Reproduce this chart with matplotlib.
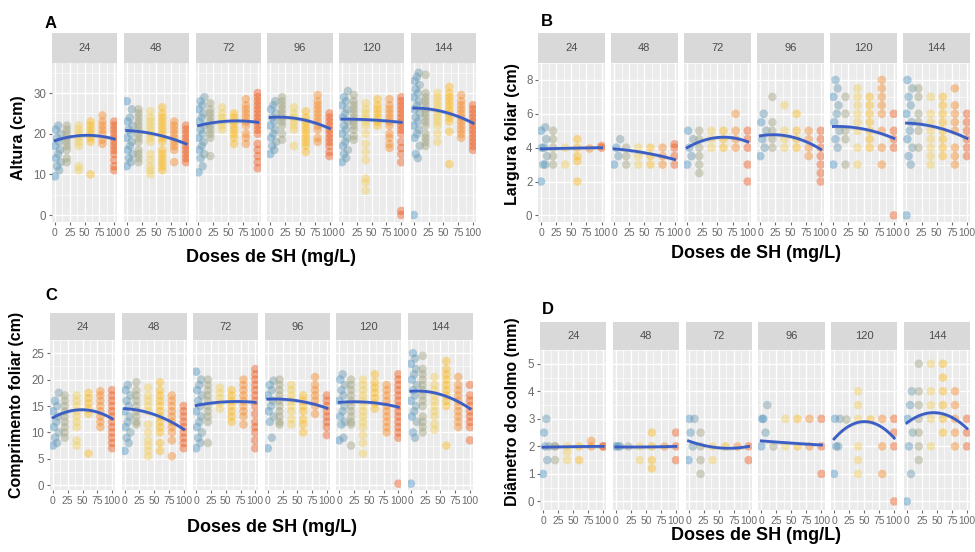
import numpy as np
import matplotlib.pyplot as plt
from matplotlib import font_manager
from matplotlib.colors import LinearSegmentedColormap

# === data ===
facets = ["24", "48", "72", "96", "120", "144"]
doses = [0, 20, 40, 60, 80, 100]
dose_ticks = [0, 25, 50, 75, 100]

# one block per facet, one list per dose column
altura = [
    [[9.5, 11, 12, 13, 14, 15, 16, 17, 18, 19, 20, 21, 22],
     [13, 14, 16, 17, 18, 19, 20, 21, 22],
     [11, 12, 17, 18, 19, 20, 21, 22],
     [10, 18, 19, 20, 21, 22, 23],
     [17.5, 18.5, 20, 21, 22, 23, 24.5],
     [11, 12, 13.5, 15, 16, 17, 18, 19, 20, 21, 22, 23]],
    [[12, 13, 14, 15, 16, 17, 18, 19, 20, 21, 22, 23, 24, 26, 28],
     [13, 14, 15, 16, 18, 19, 20, 21, 22, 23, 24, 25, 26],
     [10, 11, 12, 13.5, 15, 18, 19, 20, 21, 22, 23, 24, 25.5],
     [11, 12, 13, 14, 15, 16, 18, 19, 20, 21, 22, 23, 24, 25, 26.5],
     [13, 16, 17, 18, 19, 20, 21, 22, 23],
     [13, 14, 15, 16, 17, 18, 19, 20, 21, 22]],
    [[10.5, 12, 14, 15, 16, 17, 18, 19, 20, 21, 22, 23, 24, 25, 26, 27, 28, 29],
     [14.5, 19, 20, 21, 22, 23, 24, 25, 26, 27.5],
     [21, 22, 23, 24, 25, 26.5],
     [17.5, 19, 20, 21, 22, 23, 24, 25],
     [17.5, 19, 20, 22, 23, 24, 25, 26, 27, 28.5],
     [11.5, 13, 14.5, 16, 17.5, 20, 21, 22, 23, 24, 25, 26, 27, 28, 29, 30]],
    [[15, 16, 17, 18, 19, 20, 21, 22, 23, 24, 25, 26, 27, 28],
     [18.5, 20, 22, 23, 24, 25, 26, 27, 28, 29],
     [17, 21, 22, 23, 24, 25, 26.5],
     [15.5, 17, 18, 19, 20, 21, 22, 23, 24, 25.5],
     [18, 19, 21, 22, 23, 24, 25, 26, 27, 28, 29.5],
     [14.5, 15.5, 17, 18, 19, 20, 21, 22, 23, 24, 25]],
    [[13, 14, 15, 16, 17, 18, 19, 20, 21, 22, 23, 24, 25, 26, 27, 28, 29, 30.5],
     [18.5, 19.5, 21, 22, 23, 24, 25, 26, 27, 28, 29.5],
     [6, 8, 9, 13.5, 15.5, 17.5, 20, 22, 23, 24, 25, 26, 27.5],
     [22, 23, 24, 25, 26, 27, 28.5],
     [16.5, 17.5, 19, 20, 22, 23, 24, 25, 26, 27, 28.5],
     [0, 1, 13, 15, 16.5, 18, 20, 21, 22, 23, 24, 25, 26, 27, 28, 29]],
    [[0, 14, 15, 17, 19, 20, 21, 22, 23, 24, 25, 26, 27, 28, 29, 30, 31, 32, 33, 34, 35],
     [17, 18, 19, 20, 22, 23, 24, 25, 26, 27, 28, 29, 30, 34.5],
     [18, 20, 22, 23, 24, 25, 26, 27, 28, 29, 30],
     [12.5, 20.5, 23, 24, 25, 26, 27, 28, 29, 30, 31.5],
     [19, 20, 21, 22, 23, 24, 25, 26, 27, 28, 29.5],
     [16, 17, 18, 19, 20, 21, 22, 23, 24, 25, 26, 27]],
]
altura_fit = [[18.3, 19.6, 18.7], [20.8, 19.8, 17.5], [22.0, 23.1, 22.8],
              [24.0, 23.6, 21.3], [23.6, 23.4, 22.8], [26.3, 25.4, 22.6]]

largura = [
    [[2, 3, 3, 3.5, 4, 4, 4.5, 5, 5.2], [3, 3.5, 4, 4.5, 5], [3, 4],
     [2, 3.2, 3.5, 4, 4.5], [4], [4, 4.1]],
    [[3, 3.5, 4, 4.5], [3, 3.5, 4], [3, 3.5, 4], [3, 3.5, 4], [3, 3.5, 4],
     [3, 3.5, 4, 4.2]],
    [[3, 3.5, 4, 4.5, 5], [2.5, 3, 3.5, 4, 4.5, 5], [4, 4.5, 5], [4, 4.5, 5],
     [4, 4.5, 5, 6], [2, 3, 4, 4.5, 5]],
    [[3.5, 4, 4.5, 5, 5.5, 6], [4, 4.5, 5, 5.5, 7], [4, 4.5, 5, 6.5],
     [4, 4.5, 5, 6], [3.5, 4, 4.5, 5], [2, 2.5, 3, 3.5, 4, 4.5, 5]],
    [[3, 4, 4.5, 5, 5.5, 6, 6.5, 7, 7.5, 8], [3, 4.5, 5, 6, 7],
     [3, 4, 5, 5.5, 6, 6.5, 7, 7.5], [4, 4.5, 5, 5.5, 6, 6.5, 7],
     [3, 4, 5, 6, 6.5, 7, 7.5, 8], [0, 4, 4.5, 5, 6]],
    [[0, 3, 3.5, 4, 4.5, 5, 5.5, 6, 6.5, 7, 7.5, 8], [4, 5, 5.5, 6, 7, 7.5],
     [3, 3.5, 4, 4.5, 5, 5.5, 6, 7], [3.5, 4, 4.5, 5, 5.5, 6, 6.5, 7],
     [3, 3.5, 4, 5, 5.5, 6, 6.5, 7.5], [3.5, 4, 4.5, 5, 5.5, 6]],
]
largura_fit = [[3.93, 3.97, 4.0], [3.93, 3.7, 3.3], [4.0, 4.6, 4.35],
               [4.7, 4.65, 3.9], [5.25, 5.1, 4.55], [5.45, 5.2, 4.55]]

comprimento = [
    [[7.5, 8, 9, 10, 11, 12, 13, 14, 15, 16, 17.5],
     [9, 10, 11, 12, 13, 14, 15, 16, 17],
     [7.5, 8.5, 11, 12, 13, 14, 15, 16, 17],
     [6, 13.5, 14.5, 15.5, 16.5, 17.5],
     [11, 12, 13, 14, 15, 16, 17, 17.8],
     [7, 8, 9, 10, 11, 12, 13, 14, 15, 16, 17, 18]],
    [[6.5, 8, 9, 10, 11, 12, 13, 14, 15, 16, 17, 18, 19],
     [11.5, 12, 13, 14, 15, 16, 17, 18, 19.5],
     [5.5, 6.5, 7.5, 8.5, 10, 11.5, 14, 15, 16, 17, 18.5],
     [6.5, 8, 10, 11, 12, 13, 14, 15, 16, 17, 18, 19.5],
     [5.5, 8.5, 10, 11, 12, 13, 14, 15, 16, 17],
     [7, 8, 9, 10, 11, 12, 13, 14, 15]],
    [[7, 8, 9, 10, 11, 12, 13, 14, 15, 16, 17, 18, 19, 20, 21.5],
     [8, 12, 13, 14, 15, 16, 17, 18, 19, 20],
     [14.5, 15.5, 16.5, 17.5, 18.5],
     [12, 13, 14, 15, 16, 17, 18],
     [11.5, 13, 14, 15, 16, 17, 18, 19, 20],
     [7, 8.5, 10, 11, 12, 13.5, 15, 16, 17, 18, 19, 20, 21, 22]],
    [[7, 9, 12, 13, 14, 15, 16, 17, 18, 19, 19.8],
     [11.5, 12, 13, 14, 15, 16, 17, 18, 19, 20],
     [11.5, 12.5, 14, 15, 16, 17, 18, 19],
     [10, 11.5, 12.5, 14, 15, 16, 17],
     [13.5, 15, 16, 17, 18, 19, 20.5],
     [9.5, 11, 12, 13, 14, 15, 16, 17]],
    [[8.5, 9, 11.5, 12, 13, 14, 15, 16, 17, 18, 19, 20, 21],
     [7.5, 11.5, 12, 13, 14, 15, 16, 17, 18, 19, 20],
     [6, 8, 9.5, 11, 12, 13, 14, 15, 16, 17, 18, 19, 20],
     [14.5, 15.5, 16.5, 17.5, 18.5, 19.5, 21],
     [10, 11, 12, 13, 14, 15, 16, 17, 18, 19],
     [0.3, 9, 10, 11, 12, 13, 14, 15, 16, 17, 18, 19, 20, 21]],
    [[0.3, 9, 10, 12, 13, 14, 15, 16, 17, 18, 19, 20, 21, 22, 23, 24, 25],
     [10, 11, 12, 13, 15, 16, 17, 18, 19, 20, 21, 22, 24.5],
     [10.5, 11.5, 13, 14, 15, 16, 17, 18, 19, 20.5],
     [7.5, 15, 16, 17, 18, 19, 20, 21, 22, 23.5],
     [11, 12, 13, 14, 15, 16, 17, 18, 19, 20.5],
     [8.5, 11, 12, 13, 14, 15, 16, 17, 19]],
]
comprimento_fit = [[12.8, 14.3, 12.6], [14.5, 13.4, 10.6], [15.1, 15.8, 15.7],
                   [16.3, 16.0, 14.6], [15.7, 15.7, 14.8], [17.8, 17.2, 14.5]]

diametro = [
    [[1, 1.5, 2, 2, 2.5, 3], [1.5, 2, 2], [1.5, 1.8, 2], [1.5, 2], [2, 2.2], [2, 2]],
    [[2, 2, 2], [2], [1.5, 2], [1.2, 1.5, 2, 2.5], [2], [1.5, 2, 2.5]],
    [[1.5, 2, 2.5, 3, 3], [1, 1.5, 2, 2.5], [1.5, 2], [2], [2], [1.5, 2]],
    [[2, 2.5, 3, 3.5, 3], [2], [2, 3], [2, 3], [2, 3], [1, 2, 3]],
    [[1, 2, 2, 3, 3], [3], [1, 1.5, 2, 3, 3.5, 4], [3], [1, 2, 3], [0, 2, 2.5, 3]],
    [[0, 1, 2, 2.5, 3, 3.5, 4], [1.5, 2, 2.5, 3, 3.5, 4, 5], [2, 3, 3.5, 4, 5],
     [2.5, 3, 3.5, 4, 4.5, 5], [2, 2.5, 3, 3.5, 4], [2, 2.5, 3]],
]
diametro_fit = [[1.97, 1.99, 2.0], [1.98, 1.98, 2.0], [2.2, 1.95, 2.0],
                [2.2, 2.12, 2.05], [2.27, 2.9, 2.3], [2.85, 3.22, 2.65]]

# === layout (pixels of a 975x552 canvas) ===
W, H = 975, 552
panels = [
    dict(tag="A", ylabel="Altura (cm)", values=altura, fit=altura_fit,
         left=52, right=476, strip_top=33, top=63, bottom=222,
         ylim=(-1.72, 37.4), yticks=[0, 10, 20, 30],
         tag_xy=(51, 23), ylab_xy=(19, 138), xlab_xy=(271, 257)),
    dict(tag="B", ylabel="Largura foliar (cm)", values=largura, fit=largura_fit,
         left=538, right=970, strip_top=33, top=63, bottom=222,
         ylim=(-0.39, 8.44), yticks=[0, 2, 4, 6, 8],
         tag_xy=(547, 22), ylab_xy=(512, 134), xlab_xy=(756, 254)),
    dict(tag="C", ylabel="Comprimento foliar (cm)", values=comprimento, fit=comprimento_fit,
         left=50, right=473, strip_top=313, top=340, bottom=490,
         ylim=(-0.9, 26.3), yticks=[0, 5, 10, 15, 20, 25],
         tag_xy=(51, 295), ylab_xy=(17, 405), xlab_xy=(272, 527)),
    dict(tag="D", ylabel="Diâmetro do colmo (mm)", values=diametro, fit=diametro_fit,
         left=540, right=970, strip_top=322, top=350, bottom=510,
         ylim=(-0.31, 5.21), yticks=[0, 1, 2, 3, 4, 5],
         tag_xy=(548, 310), ylab_xy=(513, 412), xlab_xy=(756, 536)),
]
gap = 6.5

cmap = LinearSegmentedColormap.from_list(
    "dose", ["#4f95c6", "#a3a685", "#f2cf5e", "#fab920", "#f68c2e", "#ee5e22"])
zero_spread = [0, 7, 3.5, 10, 1.5, 5.5, 8.5]   # horizontal spread of the control column

names = {f.name for f in font_manager.fontManager.ttflist}
if "Liberation Sans Narrow" in names:
    narrow, tick_fs = ["Liberation Sans Narrow", "Liberation Sans"], 8.5
else:
    narrow, tick_fs = ["Liberation Sans", "DejaVu Sans"], 7.4

plt.rcParams["font.family"] = ["Liberation Sans", "DejaVu Sans"]
fig = plt.figure(figsize=(W / 100, H / 100), dpi=100)


def add_ax(x0, y0, x1, y1):
    return fig.add_axes([x0 / W, 1 - y1 / H, (x1 - x0) / W, (y1 - y0) / H])


xs_fit = np.linspace(0, 100, 80)
for p in panels:
    fw = (p["right"] - p["left"] - 5 * gap) / 6
    ymin, ymax = p["ylim"]
    ystep = p["yticks"][1] - p["yticks"][0]
    for i, name in enumerate(facets):
        x0 = p["left"] + i * (fw + gap)
        ax = add_ax(x0, p["top"], x0 + fw, p["bottom"])
        ax.set_facecolor("#ebebeb")
        for s in ax.spines.values():
            s.set_visible(False)

        for d, vals in zip(doses, p["values"][i]):
            if d == 0:
                xs = [zero_spread[k % len(zero_spread)] for k in range(len(vals))]
            else:
                xs = [d] * len(vals)
            cols = cmap(np.array(xs) / 100)
            ax.scatter(xs, vals, s=38, c=cols, alpha=0.45, linewidths=0, zorder=2)

        coef = np.polyfit([0, 50, 100], p["fit"][i], 2)
        yf = np.polyval(coef, xs_fit)
        band = 0.012 * (ymax - ymin)
        ax.fill_between(xs_fit, yf - band, yf + band, color="#999999", alpha=0.3,
                        linewidth=0, zorder=3)
        ax.plot(xs_fit, yf, color="#3a5ec6", lw=2.0, zorder=4)

        ax.set_xlim(-5, 105)
        ax.set_ylim(ymin, ymax)
        ax.set_xticks(dose_ticks)
        ax.set_xticks([12.5, 37.5, 62.5, 87.5], minor=True)
        ax.set_xticklabels([str(t) for t in dose_ticks], fontsize=tick_fs,
                           family=narrow, color="#6b6b6b")
        ax.set_yticks(p["yticks"])
        ax.set_yticks([t + ystep / 2 for t in p["yticks"]], minor=True)
        ax.grid(which="major", color="white", lw=1.0)
        ax.grid(which="minor", color="white", lw=0.5)
        ax.set_axisbelow(True)
        ax.tick_params(which="minor", length=0)
        ax.tick_params(axis="x", which="major", length=2.5, width=0.8,
                       color="#6b6b6b", pad=1.5)
        if i == 0:
            ax.tick_params(axis="y", which="major", length=2.5, width=0.8,
                           color="#6b6b6b", pad=1.5, labelsize=8.3, labelcolor="#6b6b6b")
        else:
            ax.tick_params(axis="y", which="both", length=0, labelleft=False)

        st = add_ax(x0, p["strip_top"], x0 + fw, p["top"])
        st.set_facecolor("#d9d9d9")
        st.set_xticks([])
        st.set_yticks([])
        for s in st.spines.values():
            s.set_visible(False)
        st.text(0.5, 0.5, name, ha="center", va="center", fontsize=8,
                family=narrow, color="#4d4d4d", transform=st.transAxes)

    tx, ty = p["tag_xy"]
    fig.text(tx / W, 1 - ty / H, p["tag"], ha="center", va="center",
             fontsize=12, fontweight="bold")
    lx, ly = p["ylab_xy"]
    fig.text(lx / W, 1 - ly / H, p["ylabel"], ha="center", va="center",
             rotation=90, fontsize=11.5, fontweight="bold")
    bx, by = p["xlab_xy"]
    fig.text(bx / W, 1 - by / H, "Doses de SH (mg/L)", ha="center", va="center",
             fontsize=13, fontweight="bold")

fig.savefig("out.png", dpi=100)
